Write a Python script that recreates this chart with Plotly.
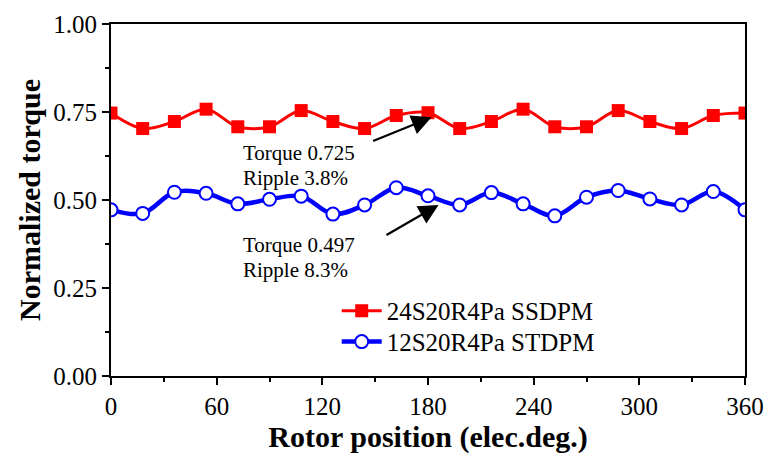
"""Normalized torque vs rotor position for the two dual-PM machines."""

import plotly.graph_objects as go

# rotor position (elec. deg), one marker every 18 deg
position = [0, 18, 36, 54, 72, 90, 108, 126, 144, 162, 180,
            198, 216, 234, 252, 270, 288, 306, 324, 342, 360]

torque_ssdpm = [0.747, 0.703, 0.723, 0.758, 0.708, 0.708, 0.754, 0.723, 0.703, 0.740, 0.748,
                0.703, 0.723, 0.758, 0.708, 0.708, 0.754, 0.723, 0.703, 0.740, 0.747]
torque_stdpm = [0.472, 0.462, 0.522, 0.519, 0.489, 0.502, 0.511, 0.460, 0.486, 0.535, 0.512,
                0.486, 0.521, 0.489, 0.455, 0.508, 0.527, 0.503, 0.486, 0.524, 0.472]

series_names = ["24S20R4Pa SSDPM", "12S20R4Pa STDPM"]
notes_ssdpm = ["Torque 0.725", "Ripple 3.8%"]
notes_stdpm = ["Torque 0.497", "Ripple 8.3%"]

FONT = "Liberation Serif, Times New Roman, serif"

fig = go.Figure()
fig.add_trace(go.Scatter(
    x=position, y=torque_ssdpm, name=series_names[0], legend="legend",
    mode="lines+markers", line=dict(color="#ff0000", width=3, shape="spline", smoothing=1.0),
    marker=dict(symbol="square", size=13, color="#ff0000"),
))
fig.add_trace(go.Scatter(
    x=position, y=torque_stdpm, name=series_names[1], legend="legend2",
    mode="lines+markers", line=dict(color="#0000ff", width=4.5, shape="spline", smoothing=1.0),
    marker=dict(symbol="circle", size=13, color="white", line=dict(color="#0000ff", width=2)),
))

# text notes and arrows pointing at the curves
for text, yy in zip(notes_ssdpm, [0.634, 0.563]):
    fig.add_annotation(x=74, y=yy, text=text, showarrow=False, xanchor="left",
                       font=dict(family=FONT, size=21, color="black"))
for text, yy in zip(notes_stdpm, [0.373, 0.302]):
    fig.add_annotation(x=74, y=yy, text=text, showarrow=False, xanchor="left",
                       font=dict(family=FONT, size=21, color="black"))
fig.add_annotation(x=182, y=0.735, ax=148, ay=0.666, axref="x", ayref="y", text="",
                   showarrow=True, arrowhead=2, arrowsize=1.8, arrowwidth=2.2, arrowcolor="black")
fig.add_annotation(x=186, y=0.486, ax=155.6, ay=0.398, axref="x", ayref="y", text="",
                   showarrow=True, arrowhead=2, arrowsize=1.8, arrowwidth=2.2, arrowcolor="black")

axis_common = dict(showgrid=False, zeroline=False, showline=True, linecolor="black", linewidth=2,
                   mirror=True, ticks="outside", ticklen=7, tickwidth=2, tickcolor="black",
                   automargin=False, tickfont=dict(family=FONT, size=25, color="black"))
fig.update_xaxes(range=[0, 360], tick0=0, dtick=60,
                 minor=dict(dtick=30, ticks="outside", ticklen=4, tickwidth=1.5, tickcolor="black"),
                 title=dict(text="<b>Rotor position (elec.deg.)</b>", standoff=2,
                            font=dict(family=FONT, size=30, color="black")),
                 **axis_common)
fig.update_yaxes(range=[0, 1], tick0=0, dtick=0.25, tickformat=".2f",
                 minor=dict(dtick=0.125, ticks="outside", ticklen=4, tickwidth=1.5, tickcolor="black"),
                 title=dict(text="<b>Normalized torque</b>", standoff=4,
                            font=dict(family=FONT, size=30, color="black")),
                 **axis_common)

legend_style = dict(xanchor="left", yanchor="middle", bgcolor="rgba(0,0,0,0)",
                    font=dict(family=FONT, size=25, color="black"), itemwidth=40)
fig.update_layout(
    width=766, height=455,
    margin=dict(l=111, r=21, t=24, b=79),
    plot_bgcolor="white", paper_bgcolor="white",
    legend=dict(x=0.356, y=0.185, **legend_style),
    legend2=dict(x=0.356, y=0.097, **legend_style),
    showlegend=True,
)

# drop the default page margin so the figure sits at the window's corner
fig.write_html("out.html", config={"displayModeBar": False},
               post_script="document.body.style.margin='0';")
